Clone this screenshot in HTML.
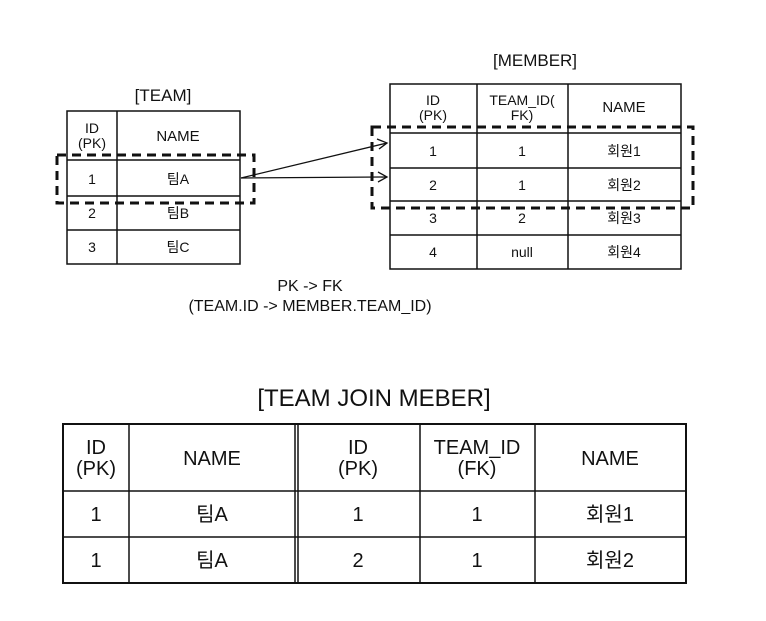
<!DOCTYPE html>
<html><head><meta charset="utf-8"><style>
body{margin:0;background:#fff;width:766px;height:621px;position:relative;overflow:hidden;font-family:"Liberation Sans","Noto Sans CJK KR",sans-serif;color:#111}
.t{position:absolute;white-space:nowrap;text-align:center;transform:translate(-50%,-50%)}
</style></head><body>
<svg width="766" height="621" style="position:absolute;left:0;top:0" font-family="Liberation Sans, Noto Sans CJK KR, sans-serif" fill="#111">
<g stroke="#111" stroke-width="1.5" fill="none">
<!-- TEAM -->
<rect x="67" y="111" width="173" height="153"/>
<line x1="117" y1="111" x2="117" y2="264"/>
<line x1="67" y1="160" x2="240" y2="160"/>
<line x1="67" y1="196" x2="240" y2="196"/>
<line x1="67" y1="230" x2="240" y2="230"/>
<!-- MEMBER -->
<rect x="390" y="84" width="291" height="185"/>
<line x1="477" y1="84" x2="477" y2="269"/>
<line x1="568" y1="84" x2="568" y2="269"/>
<line x1="390" y1="133" x2="681" y2="133"/>
<line x1="390" y1="168" x2="681" y2="168"/>
<line x1="390" y1="201" x2="681" y2="201"/>
<line x1="390" y1="235" x2="681" y2="235"/>
<!-- JOIN -->
<rect x="63" y="424" width="623" height="159" stroke-width="2"/>
<line x1="129" y1="424" x2="129" y2="583"/>
<line x1="295" y1="424" x2="295" y2="583"/>
<line x1="298" y1="424" x2="298" y2="583"/>
<line x1="420" y1="424" x2="420" y2="583"/>
<line x1="535" y1="424" x2="535" y2="583"/>
<line x1="63" y1="491" x2="686" y2="491"/>
<line x1="63" y1="537" x2="686" y2="537"/>
</g>
<g stroke="#111" stroke-width="3" fill="none" stroke-dasharray="9,6">
<rect x="57" y="155" width="197" height="48"/>
<rect x="372" y="127" width="321" height="81"/>
</g>
<g stroke="#111" stroke-width="1.3" fill="none">
<line x1="241" y1="178" x2="387" y2="143"/>
<line x1="241" y1="178" x2="387" y2="177"/>
<polyline points="377,139 387,143 379,149"/>
<polyline points="378,172 387,177 378,182"/>
</g>
<g font-size="16" text-anchor="middle">
<text x="163" y="101" font-size="17">[TEAM]</text>
<text x="535" y="66" font-size="17">[MEMBER]</text>
<text x="92" y="133" font-size="14">ID</text><text x="92" y="148" font-size="14">(PK)</text>
<text x="178" y="141" font-size="15">NAME</text>
<text x="92" y="184" font-size="14">1</text><text x="178" y="184" font-size="14">팀A</text>
<text x="92" y="218" font-size="14">2</text><text x="178" y="218" font-size="14">팀B</text>
<text x="92" y="252" font-size="14">3</text><text x="178" y="252" font-size="14">팀C</text>
<text x="433" y="105" font-size="14">ID</text><text x="433" y="120" font-size="14">(PK)</text>
<text x="522" y="105" font-size="14">TEAM_ID(</text><text x="522" y="120" font-size="14">FK)</text>
<text x="624" y="112" font-size="15">NAME</text>
<text x="433" y="156" font-size="14">1</text><text x="522" y="156" font-size="14">1</text><text x="624" y="156" font-size="14">회원1</text>
<text x="433" y="190" font-size="14">2</text><text x="522" y="190" font-size="14">1</text><text x="624" y="190" font-size="14">회원2</text>
<text x="433" y="223" font-size="14">3</text><text x="522" y="223" font-size="14">2</text><text x="624" y="223" font-size="14">회원3</text>
<text x="433" y="257" font-size="14">4</text><text x="522" y="257" font-size="14">null</text><text x="624" y="257" font-size="14">회원4</text>
<text x="310" y="291" font-size="16">PK -&gt; FK</text>
<text x="310" y="311" font-size="16">(TEAM.ID -&gt; MEMBER.TEAM_ID)</text>
<text x="374" y="406" font-size="24">[TEAM JOIN MEBER]</text>
<g font-size="20">
<text x="96" y="454">ID</text><text x="96" y="475">(PK)</text>
<text x="212" y="465">NAME</text>
<text x="358" y="454">ID</text><text x="358" y="475">(PK)</text>
<text x="477" y="454">TEAM_ID</text><text x="477" y="475">(FK)</text>
<text x="610" y="465">NAME</text>
<text x="96" y="521">1</text><text x="212" y="521">팀A</text><text x="358" y="521">1</text><text x="477" y="521">1</text><text x="610" y="521">회원1</text>
<text x="96" y="567">1</text><text x="212" y="567">팀A</text><text x="358" y="567">2</text><text x="477" y="567">1</text><text x="610" y="567">회원2</text>
</g>
</g>
</svg>
</body></html>
